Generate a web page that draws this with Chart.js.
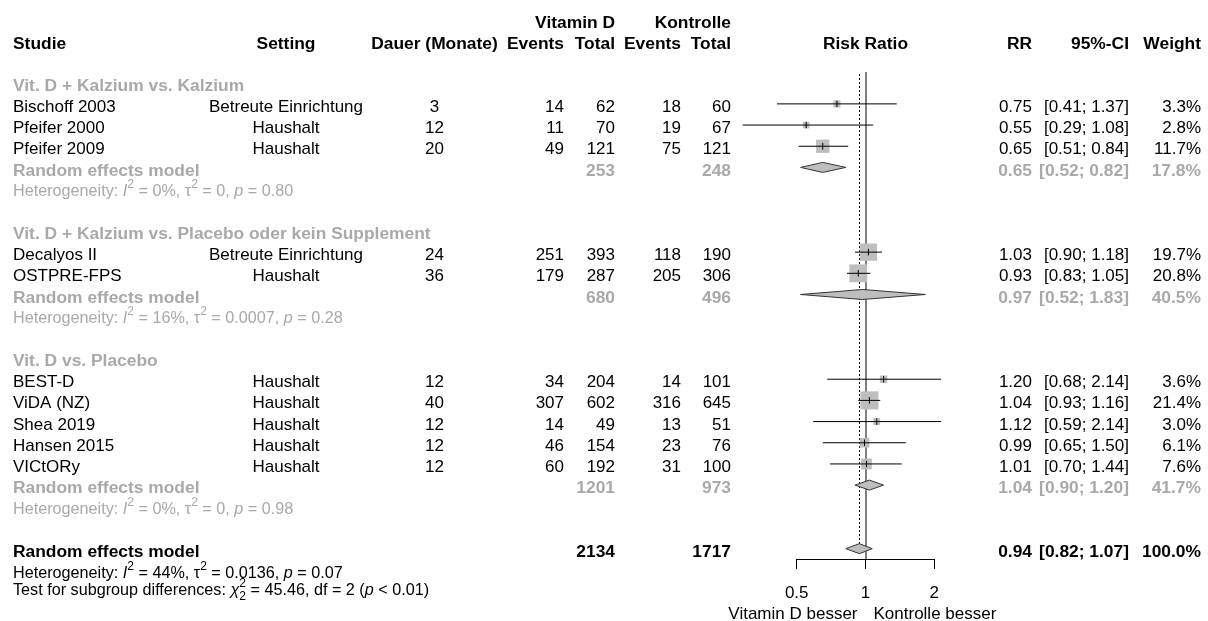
<!DOCTYPE html>
<html>
<head>
<meta charset="utf-8">
<script src="https://cdn.jsdelivr.net/npm/chart.js@4.4.0/dist/chart.umd.min.js"></script>
<style>
  html, body { margin: 0; padding: 0; background: #fff; }
  #wrap { width: 1208px; height: 621px; position: relative; }
</style>
</head>
<body>
<div id="wrap"><canvas id="forest"></canvas></div>
<script>
// ---- Subgroups ----
const groupLabels = [
  "Vit. D + Kalzium vs. Kalzium",
  "Vit. D + Kalzium vs. Placebo oder kein Supplement",
  "Vit. D vs. Placebo"
];

// ---- Studies ----
const studyNames = ["Bischoff 2003", "Pfeifer 2000", "Pfeifer 2009", "Decalyos II", "OSTPRE-FPS",
                    "BEST-D", "ViDA (NZ)", "Shea 2019", "Hansen 2015", "VICtORy"];
const studyGroup = [0, 0, 0, 1, 1, 2, 2, 2, 2, 2];
const settings = ["Betreute Einrichtung", "Haushalt", "Haushalt", "Betreute Einrichtung", "Haushalt",
                  "Haushalt", "Haushalt", "Haushalt", "Haushalt", "Haushalt"];
const durationMonths = [3, 12, 20, 24, 36, 12, 40, 12, 12, 12];
const eventsVitD = [14, 11, 49, 251, 179, 34, 307, 14, 46, 60];
const totalVitD = [62, 70, 121, 393, 287, 204, 602, 49, 154, 192];
const eventsCtrl = [18, 19, 75, 118, 205, 14, 316, 13, 23, 31];
const totalCtrl = [60, 67, 121, 190, 306, 101, 645, 51, 76, 100];
const studyRR = [0.75, 0.55, 0.65, 1.03, 0.93, 1.20, 1.04, 1.12, 0.99, 1.01];
const studyLow = [0.41, 0.29, 0.51, 0.90, 0.83, 0.68, 0.93, 0.59, 0.65, 0.70];
const studyHigh = [1.37, 1.08, 0.84, 1.18, 1.05, 2.14, 1.16, 2.14, 1.50, 1.44];
const studyWeight = [3.3, 2.8, 11.7, 19.7, 20.8, 3.6, 21.4, 3.0, 6.1, 7.6];

// ---- Subgroup random effects models ----
const subTotalVitD = [253, 680, 1201];
const subTotalCtrl = [248, 496, 973];
const subRR = [0.65, 0.97, 1.04];
const subLow = [0.52, 0.52, 0.90];
const subHigh = [0.82, 1.83, 1.20];
const subWeight = [17.8, 40.5, 41.7];
const subI2 = ["0%", "16%", "0%"];
const subTau2 = ["0", "0.0007", "0"];
const subP = ["0.80", "0.28", "0.98"];

// ---- Overall random effects model ----
const overallTotalVitD = 2134;
const overallTotalCtrl = 1717;
const overallRR = 0.94;
const overallLow = 0.82;
const overallHigh = 1.07;
const overallWeight = 100.0;
const overallI2 = "44%";
const overallTau2 = "0.0136";
const overallP = "0.07";
const testChi2 = "45.46";
const testDf = "2";
const testP = "< 0.01";

// ---- Axis ----
const tickValues = [0.5, 1, 2];
const tickLabels = ["0.5", "1", "2"];
const favoursLeft = "Vitamin D besser";
const favoursRight = "Kontrolle besser";

// ---- Layout helpers ----
const FONT = '"Liberation Sans", Arial, Helvetica, sans-serif';
const BLACK = "#000000";
const GREY = "#a9a9a9";
const MAIN_SIZE = 17;
const BOLD_SIZE = 17.4;
const HET_SIZE = 16.2;
const COL = { study: 13, setting: 286, dauer: 434.5, evD: 564, totD: 615, evK: 681, totK: 731,
              rr: 1032, ci: 1129, w: 1201 };

// Row numbers (one line per row, 0 = first subgroup title)
const groupRow = [], subRow = [], hetRow = [], studyRow = [];
let r = 0;
groupLabels.forEach((g, gi) => {
  groupRow[gi] = r++;
  studyNames.forEach((n, i) => { if (studyGroup[i] === gi) studyRow[i] = r++; });
  subRow[gi] = r++;
  hetRow[gi] = r++;
  r++;
});
const overallRow = r;
const overallHetRow = r + 1;
const testRow = r + 1.84;
const headerRows = [-2.97, -1.98];
const favoursRow = 24.95;

// Datasets built from the arrays above
const ciPoints = [];
studyNames.forEach((n, i) => {
  ciPoints.push({ x: studyLow[i], y: studyRow[i] });
  ciPoints.push({ x: studyHigh[i], y: studyRow[i] });
  ciPoints.push({ x: studyHigh[i], y: null });
});
const estPoints = studyNames.map((n, i) => ({ x: studyRR[i], y: studyRow[i] }));
const squareRadius = studyWeight.map(w => 3.9 * Math.sqrt(w) / Math.SQRT2);

const fmt2 = v => v.toFixed(2);
const ciText = (lo, hi) => "[" + fmt2(lo) + "; " + fmt2(hi) + "]";

function drawText(ctx, s, x, yc, align, bold, color) {
  const size = bold ? BOLD_SIZE : MAIN_SIZE;
  ctx.font = (bold ? "bold " : "") + size + "px " + FONT;
  ctx.textAlign = align;
  ctx.textBaseline = "alphabetic";
  ctx.fillStyle = color;
  ctx.fillText(s, x, yc + 0.358 * size);
}

// Text with italic letters, superscripts and stacked super/subscripts
function drawRich(ctx, parts, x, yc, color, size) {
  const base = yc + 0.358 * size;
  const small = Math.round(size * 0.72);
  ctx.textAlign = "left";
  ctx.textBaseline = "alphabetic";
  ctx.fillStyle = color;
  let cx = x;
  parts.forEach(p => {
    if (p.sup !== undefined || p.sub !== undefined) {
      ctx.font = small + "px " + FONT;
      let wMax = 0;
      if (p.sup !== undefined) {
        ctx.fillText(p.sup, cx, base - size * 0.5);
        wMax = Math.max(wMax, ctx.measureText(p.sup).width);
      }
      if (p.sub !== undefined) {
        ctx.fillText(p.sub, cx, base + size * 0.3);
        wMax = Math.max(wMax, ctx.measureText(p.sub).width);
      }
      cx += wMax;
    } else {
      ctx.font = (p.it ? "italic " : "") + size + "px " + FONT;
      ctx.fillText(p.t, cx, base);
      cx += ctx.measureText(p.t).width;
    }
  });
}

function hetParts(i2, tau2, p) {
  return [
    { t: "Heterogeneity: " }, { t: "I", it: true }, { sup: "2" }, { t: " = " + i2 + ", " },
    { t: "\u03c4" }, { sup: "2" }, { t: " = " + tau2 + ", " },
    { t: "p", it: true }, { t: " = " + p }
  ];
}

const forestPlugin = {
  id: "forestPlugin",
  beforeDatasetsDraw(chart) {
    const { ctx, chartArea, scales: { x, y } } = chart;
    ctx.save();
    // line of no effect
    const x1 = Math.round(x.getPixelForValue(1));
    ctx.strokeStyle = "#808080";
    ctx.lineWidth = 2;
    ctx.beginPath();
    ctx.moveTo(x1, chartArea.top);
    ctx.lineTo(x1, chartArea.bottom);
    ctx.stroke();
    // overall estimate (dotted)
    const xo = Math.floor(x.getPixelForValue(overallRR)) + 0.5;
    ctx.strokeStyle = BLACK;
    ctx.lineWidth = 1;
    ctx.setLineDash([2, 2]);
    ctx.beginPath();
    ctx.moveTo(xo, chartArea.top + 2);
    ctx.lineTo(xo, y.getPixelForValue(overallRow) - 5);
    ctx.stroke();
    ctx.restore();
  },
  afterDatasetsDraw(chart) {
    const { ctx, scales: { x, y } } = chart;
    const diamond = (lo, est, hi, row) => {
      const yc = y.getPixelForValue(row);
      ctx.beginPath();
      ctx.moveTo(x.getPixelForValue(lo), yc);
      ctx.lineTo(x.getPixelForValue(est), yc - 5);
      ctx.lineTo(x.getPixelForValue(hi), yc);
      ctx.lineTo(x.getPixelForValue(est), yc + 5);
      ctx.closePath();
      ctx.fill();
      ctx.stroke();
    };
    ctx.save();
    ctx.fillStyle = "#bebebe";
    ctx.strokeStyle = "#333333";
    ctx.lineWidth = 1;
    groupLabels.forEach((g, gi) => diamond(subLow[gi], subRR[gi], subHigh[gi], subRow[gi]));
    diamond(overallLow, overallRR, overallHigh, overallRow);
    ctx.restore();
  },
  afterDraw(chart) {
    const { ctx, scales: { x, y } } = chart;
    const yc = row => y.getPixelForValue(row) + 2;
    ctx.save();
    // header
    const h1 = yc(headerRows[0]), h2 = yc(headerRows[1]);
    drawText(ctx, "Vitamin D", COL.totD, h1, "right", true, BLACK);
    drawText(ctx, "Kontrolle", COL.totK, h1, "right", true, BLACK);
    drawText(ctx, "Studie", COL.study, h2, "left", true, BLACK);
    drawText(ctx, "Setting", COL.setting, h2, "center", true, BLACK);
    drawText(ctx, "Dauer (Monate)", COL.dauer, h2, "center", true, BLACK);
    drawText(ctx, "Events", COL.evD, h2, "right", true, BLACK);
    drawText(ctx, "Total", COL.totD, h2, "right", true, BLACK);
    drawText(ctx, "Events", COL.evK, h2, "right", true, BLACK);
    drawText(ctx, "Total", COL.totK, h2, "right", true, BLACK);
    drawText(ctx, "Risk Ratio", x.getPixelForValue(1), h2, "center", true, BLACK);
    drawText(ctx, "RR", COL.rr, h2, "right", true, BLACK);
    drawText(ctx, "95%-CI", COL.ci, h2, "right", true, BLACK);
    drawText(ctx, "Weight", COL.w, h2, "right", true, BLACK);

    // subgroups
    groupLabels.forEach((g, gi) => {
      drawText(ctx, g, COL.study, yc(groupRow[gi]), "left", true, GREY);
      const ys = yc(subRow[gi]);
      drawText(ctx, "Random effects model", COL.study, ys, "left", true, GREY);
      drawText(ctx, String(subTotalVitD[gi]), COL.totD, ys, "right", true, GREY);
      drawText(ctx, String(subTotalCtrl[gi]), COL.totK, ys, "right", true, GREY);
      drawText(ctx, fmt2(subRR[gi]), COL.rr, ys, "right", true, GREY);
      drawText(ctx, ciText(subLow[gi], subHigh[gi]), COL.ci, ys, "right", true, GREY);
      drawText(ctx, subWeight[gi].toFixed(1) + "%", COL.w, ys, "right", true, GREY);
      drawRich(ctx, hetParts(subI2[gi], subTau2[gi], subP[gi]), COL.study, yc(hetRow[gi]), GREY, HET_SIZE);
    });

    // studies
    studyNames.forEach((n, i) => {
      const yy = yc(studyRow[i]);
      drawText(ctx, n, COL.study, yy, "left", false, BLACK);
      drawText(ctx, settings[i], COL.setting, yy, "center", false, BLACK);
      drawText(ctx, String(durationMonths[i]), COL.dauer, yy, "center", false, BLACK);
      drawText(ctx, String(eventsVitD[i]), COL.evD, yy, "right", false, BLACK);
      drawText(ctx, String(totalVitD[i]), COL.totD, yy, "right", false, BLACK);
      drawText(ctx, String(eventsCtrl[i]), COL.evK, yy, "right", false, BLACK);
      drawText(ctx, String(totalCtrl[i]), COL.totK, yy, "right", false, BLACK);
      drawText(ctx, fmt2(studyRR[i]), COL.rr, yy, "right", false, BLACK);
      drawText(ctx, ciText(studyLow[i], studyHigh[i]), COL.ci, yy, "right", false, BLACK);
      drawText(ctx, studyWeight[i].toFixed(1) + "%", COL.w, yy, "right", false, BLACK);
    });

    // overall
    const yo = yc(overallRow);
    drawText(ctx, "Random effects model", COL.study, yo, "left", true, BLACK);
    drawText(ctx, String(overallTotalVitD), COL.totD, yo, "right", true, BLACK);
    drawText(ctx, String(overallTotalCtrl), COL.totK, yo, "right", true, BLACK);
    drawText(ctx, fmt2(overallRR), COL.rr, yo, "right", true, BLACK);
    drawText(ctx, ciText(overallLow, overallHigh), COL.ci, yo, "right", true, BLACK);
    drawText(ctx, overallWeight.toFixed(1) + "%", COL.w, yo, "right", true, BLACK);
    drawRich(ctx, hetParts(overallI2, overallTau2, overallP), COL.study, yc(overallHetRow), BLACK, HET_SIZE);
    drawRich(ctx, [
      { t: "Test for subgroup differences: " }, { t: "\u03c7", it: true }, { sup: "2", sub: testDf },
      { t: " = " + testChi2 + ", df = " + testDf + " (" }, { t: "p", it: true }, { t: " " + testP + ")" }
    ], COL.study, yc(testRow), BLACK, HET_SIZE);

    // favours labels under the axis
    const x1 = x.getPixelForValue(1);
    const yf = yc(favoursRow);
    drawText(ctx, favoursLeft, x1 - 8, yf, "right", false, BLACK);
    drawText(ctx, favoursRight, x1 + 8, yf, "left", false, BLACK);
    ctx.restore();
  }
};

Chart.defaults.font.family = FONT;

new Chart(document.getElementById("forest"), {
  type: "scatter",
  data: {
    datasets: [
      { // point estimate marks
        data: estPoints,
        pointStyle: "line",
        rotation: 90,
        pointRadius: 3.3,
        borderColor: BLACK,
        borderWidth: 1,
        clip: false,
        order: 1
      },
      { // confidence intervals
        data: ciPoints,
        showLine: true,
        spanGaps: false,
        pointRadius: 0,
        borderColor: BLACK,
        borderWidth: 1,
        clip: false,
        order: 2
      },
      { // weighted squares
        data: estPoints,
        pointStyle: "rect",
        pointRadius: squareRadius,
        backgroundColor: "#bebebe",
        borderWidth: 0,
        clip: false,
        order: 3
      }
    ]
  },
  options: {
    responsive: true,
    maintainAspectRatio: false,
    animation: false,
    events: [],
    layout: { padding: { left: 796.7, right: 273.7, top: 72, bottom: 0 } },
    plugins: { legend: { display: false }, tooltip: { enabled: false } },
    scales: {
      x: {
        type: "logarithmic",
        min: 0.5,
        max: 2,
        afterBuildTicks: s => { s.ticks = tickValues.map(v => ({ value: v })); },
        afterFit: s => { s.height = 62; },
        grid: { display: true, drawOnChartArea: false, drawTicks: true, tickLength: 10,
                color: BLACK, tickColor: BLACK, lineWidth: 1 },
        border: { display: true, color: BLACK, width: 1 },
        ticks: {
          color: BLACK, font: { size: MAIN_SIZE, family: FONT }, padding: 14,
          maxRotation: 0, autoSkip: false,
          callback: (v, i) => tickLabels[i]
        }
      },
      y: {
        type: "linear",
        display: false,
        reverse: true,
        min: -0.505,
        max: 22.488
      }
    }
  },
  plugins: [forestPlugin]
});
</script>
</body>
</html>
